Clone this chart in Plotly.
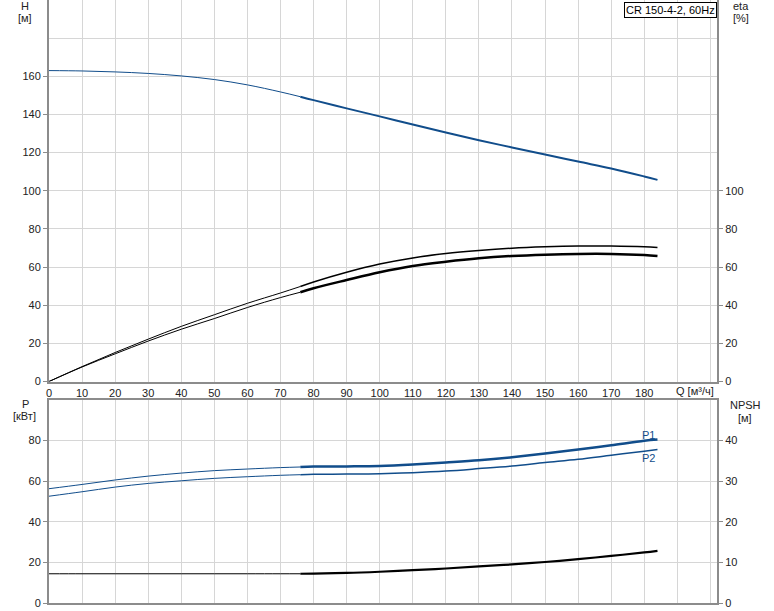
import plotly.graph_objects as go

# ---- data ----
q = [0, 10, 20, 30, 40, 50, 60, 70, 76, 80, 90, 100, 110, 120, 130, 140, 150, 160, 170, 180, 184]
head_h = [163, 162.8, 162.3, 161.5, 160.2, 158.3, 155.5, 151.8, 149.3, 147.5, 143.2, 139, 134.7,
          130.5, 126.5, 122.7, 119, 115.3, 111.7, 107.5, 105.7]
eta_pump = [0, 7.8, 15.2, 22.2, 28.9, 35.0, 41.0, 46.4, 49.8, 52.2, 57.3, 61.6, 64.8, 67.1, 68.7,
            69.9, 70.6, 71.0, 71.0, 70.6, 70.2]
eta_total = [0, 7.6, 14.5, 21.2, 27.4, 33.0, 38.8, 44.0, 46.8, 48.9, 53.2, 57.3, 60.6, 62.8, 64.6,
             65.8, 66.5, 66.9, 66.9, 66.3, 65.8]
p1 = [56.3, 58.4, 60.6, 62.5, 64.0, 65.2, 66.0, 66.7, 67.0, 67.2, 67.3, 67.5, 68.2, 69.2, 70.3,
      71.8, 73.6, 75.6, 77.7, 79.9, 80.5]
p2 = [52.6, 54.8, 57.1, 58.9, 60.2, 61.4, 62.2, 62.9, 63.2, 63.4, 63.5, 63.7, 64.2, 65.0, 66.2,
      67.5, 69.2, 70.8, 72.8, 74.8, 75.6]
npsh = [7.2, 7.2, 7.2, 7.2, 7.2, 7.2, 7.2, 7.2, 7.2, 7.25, 7.4, 7.7, 8.1, 8.5, 9.0, 9.5, 10.1,
        10.8, 11.6, 12.45, 12.85]

x_ticks = [0, 10, 20, 30, 40, 50, 60, 70, 80, 90, 100, 110, 120, 130, 140, 150, 160, 170, 180, 190, 200]
x_ticktext = ["0", "10", "20", "30", "40", "50", "60", "70", "80", "90", "100", "110", "120",
              "130", "140", "150", "160", "170", "180", "", ""]
h_ticks = [0, 20, 40, 60, 80, 100, 120, 140, 160]
eta_ticks = [0, 20, 40, 60, 80, 100]
p_ticks = [0, 20, 40, 60, 80]
npsh_ticks = [0, 10, 20, 30, 40]

title_text = "CR 150-4-2, 60Hz"
q_op_start = 76

BLUE = "#114d8b"
BLACK = "#000000"
FONT = "Liberation Sans, Arial, sans-serif"
TXT = "#222222"

i0 = q.index(q_op_start)

fig = go.Figure()


def add_curve(y, xa, ya, color, w_thin, w_thick):
    fig.add_trace(go.Scatter(x=q[:i0 + 1], y=y[:i0 + 1], xaxis=xa, yaxis=ya, mode="lines",
                             line=dict(color=color, width=w_thin, shape="spline"),
                             showlegend=False, hoverinfo="skip"))
    fig.add_trace(go.Scatter(x=q[i0:], y=y[i0:], xaxis=xa, yaxis=ya, mode="lines",
                             line=dict(color=color, width=w_thick, shape="spline"),
                             showlegend=False, hoverinfo="skip"))


add_curve(head_h, "x", "y", BLUE, 1, 2)
add_curve(eta_pump, "x", "y2", BLACK, 1, 1.5)
add_curve(eta_total, "x", "y2", BLACK, 1, 2.5)
add_curve(p1, "x2", "y3", BLUE, 1, 2.5)
add_curve(p2, "x2", "y3", BLUE, 1, 1.5)
add_curve(npsh, "x2", "y4", BLACK, 1, 2.2)

L, R, T, B = 49, 57, 0, 8
W, H = 774, 611
PH = H - T - B


def py(pix):
    return (H - B - pix) / PH


def px(pix):
    return (pix - L) / (W - L - R)


GRID = "#d6d6d6"
AX = "#8c8c8c"
tickfont = dict(family=FONT, size=11, color=TXT)
top_dom = [py(381.5), 1.0]
bot_dom = [0.0, py(400)]

common_x = dict(range=[0, 202], showgrid=True, gridcolor=GRID, gridwidth=1,
                showline=True, linecolor=AX, linewidth=2, zeroline=False, automargin=False,
                tickmode="array", tickvals=x_ticks, ticks="", tickfont=tickfont)

fig.update_layout(
    width=W, height=H,
    margin=dict(l=L, r=R, t=T, b=B, autoexpand=False),
    paper_bgcolor="white", plot_bgcolor="white",
    font=dict(family=FONT, size=11, color=TXT),
    xaxis=dict(**common_x, anchor="y", ticktext=x_ticktext),
    xaxis2=dict(**common_x, anchor="y3", showticklabels=False, mirror=True),
    yaxis=dict(domain=top_dom, range=[0, 200], tickmode="array", tickvals=h_ticks,
               showgrid=True, gridcolor=GRID, showline=True, linecolor=AX, linewidth=2,
               zeroline=False, ticks="outside", ticklen=4, tickcolor=AX, tickfont=tickfont,
               minor=dict(dtick=20, tick0=0, showgrid=True, gridcolor=GRID, ticks=""),
               anchor="x", automargin=False),
    yaxis2=dict(domain=top_dom, range=[0, 200], tickmode="array", tickvals=eta_ticks,
                overlaying="y", side="right", showgrid=False, showline=True, linecolor=AX,
                linewidth=2, zeroline=False, ticks="outside", ticklen=4, tickcolor=AX,
                tickfont=tickfont, anchor="x", automargin=False),
    yaxis3=dict(domain=bot_dom, range=[0, 100], tickmode="array", tickvals=p_ticks,
                showgrid=True, gridcolor=GRID, showline=True, linecolor=AX, linewidth=2,
                zeroline=False, ticks="outside", ticklen=4, tickcolor=AX, tickfont=tickfont,
                anchor="x2", automargin=False),
    yaxis4=dict(domain=bot_dom, range=[0, 50], tickmode="array", tickvals=npsh_ticks,
                overlaying="y3", side="right", showgrid=False, showline=True, linecolor=AX,
                linewidth=2, zeroline=False, ticks="outside", ticklen=4, tickcolor=AX,
                tickfont=tickfont, anchor="x2", automargin=False),
)

ann = []


def label(text, x, y, color=TXT, **kw):
    ann.append(dict(text=text, x=px(x), y=py(y), xref="paper", yref="paper", showarrow=False,
                    font=dict(family=FONT, size=11, color=color), xanchor="center",
                    yanchor="middle", **kw))


label("H", 25, 6)
label("[м]", 25, 18)
label("eta", 741, 6)
label("[%]", 741, 18)
label("P", 25, 404)
label("[кВт]", 24, 416)
label("NPSH", 745, 405)
label("[м]", 745, 418)
label("Q [м³/ч]", 695, 391)
label("P1", 648, 435, color=BLUE)
label("P2", 648, 458, color=BLUE)
ann.append(dict(text=title_text, x=px(716.5), y=py(1.5), xref="paper", yref="paper",
                showarrow=False, xanchor="right", yanchor="top",
                font=dict(family=FONT, size=11, color="#000"), bgcolor="white",
                bordercolor="#000", borderwidth=1, borderpad=1))
fig.update_layout(annotations=ann)

fig.write_html("out.html", config={"displayModeBar": False, "staticPlot": True},
               post_script="document.body.style.margin='0';document.body.style.overflow='hidden';")
